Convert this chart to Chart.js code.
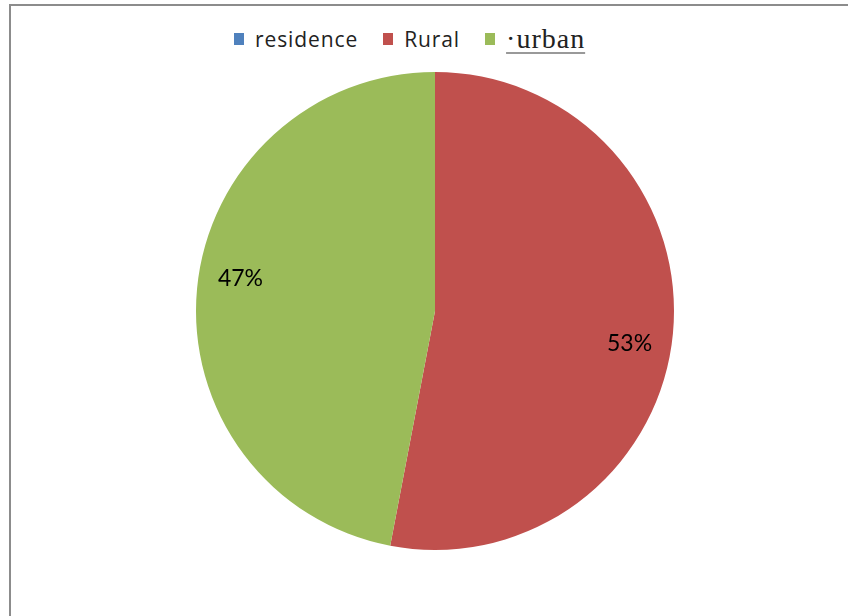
<!DOCTYPE html>
<html>
<head>
<meta charset="utf-8">
<script src="https://cdn.jsdelivr.net/npm/chart.js@4"></script>
<style>
  html, body { margin: 0; padding: 0; background: #ffffff; width: 848px; height: 616px; overflow: hidden; }
  #frame { position: absolute; left: 9px; top: 4px; width: 1000px; height: 800px; border-top: 2px solid #8c8c8c; border-left: 2px solid #8c8c8c; box-sizing: border-box; }
  #wrap { position: absolute; left: 186px; top: 62px; width: 498px; height: 498px; }
  #legend { position: absolute; top: 23px; left: 234px; display: flex; align-items: center; white-space: nowrap; }
  .item { display: flex; align-items: center; margin-right: 25px; }
  .box { width: 10px; height: 12px; margin-right: 11px; }
  .txt { font-family: "Open Sans", Lato, sans-serif; font-size: 21px; letter-spacing: 0.9px; color: #222; }
  .serif { font-family: "Liberation Serif", "DejaVu Serif", serif; font-size: 28px; letter-spacing: 1px; color: #222; text-decoration: underline; text-decoration-color: #999; text-underline-offset: 4px; }
</style>
</head>
<body>
<div id="frame"></div>
<div id="legend"></div>
<div id="wrap"><canvas id="c"></canvas></div>
<script>
const categories = ['residence', 'Rural', 'urban'];
const values = [0, 53, 47];
const colors = ['#4F81BD', '#C0504D', '#9BBB59'];

// HTML legend built from the arrays
const legend = document.getElementById('legend');
categories.forEach((name, i) => {
  const item = document.createElement('div');
  item.className = 'item';
  const box = document.createElement('span');
  box.className = 'box';
  box.style.background = colors[i];
  const t = document.createElement('span');
  t.className = (name === 'urban') ? 'serif' : 'txt';
  t.textContent = (name === 'urban') ? '\u00B7' + name : name;
  item.appendChild(box);
  item.appendChild(t);
  legend.appendChild(item);
});

const pctLabels = {
  id: 'pctLabels',
  afterDatasetsDraw(chart) {
    const ctx = chart.ctx;
    const meta = chart.getDatasetMeta(0);
    const data = chart.data.datasets[0].data;
    const total = data.reduce((a, b) => a + b, 0);
    ctx.save();
    ctx.font = '23px Lato, "Open Sans", sans-serif';
    ctx.fillStyle = '#000';
    ctx.textAlign = 'center';
    ctx.textBaseline = 'middle';
    meta.data.forEach((arc, i) => {
      if (!data[i]) return;
      const p = arc.getProps(['x', 'y', 'startAngle', 'endAngle', 'outerRadius'], true);
      const mid = (p.startAngle + p.endAngle) / 2 + 4 * Math.PI / 180;
      const r = p.outerRadius * 0.825;
      const txt = Math.round(data[i] / total * 100) + '%';
      ctx.fillText(txt, p.x + Math.cos(mid) * r, p.y + Math.sin(mid) * r);
    });
    ctx.restore();
  }
};

new Chart(document.getElementById('c'), {
  type: 'pie',
  data: {
    labels: categories,
    datasets: [{
      data: values,
      backgroundColor: colors,
      borderWidth: 0
    }]
  },
  options: {
    responsive: true,
    maintainAspectRatio: false,
    animation: false,
    layout: { padding: 10 },
    plugins: {
      legend: { display: false },
      tooltip: { enabled: false }
    }
  },
  plugins: [pctLabels]
});
</script>
</body>
</html>
